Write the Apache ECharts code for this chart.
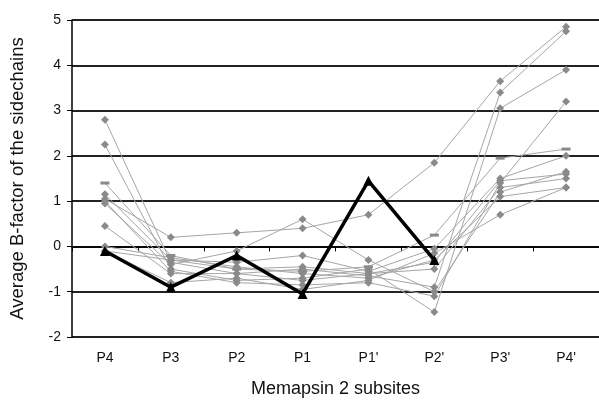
<!DOCTYPE html>
<html>
<head>
<meta charset="utf-8">
<script src="https://cdn.jsdelivr.net/npm/echarts@6/dist/echarts.min.js"></script>
<style>
  html, body { margin: 0; padding: 0; background: #fff; }
  #chart { width: 599px; height: 403px; }
</style>
</head>
<body>
<div id="chart"></div>
<script>
// subsites on the x axis
const sites = ['P4', 'P3', 'P2', 'P1', "P1'", "P2'", "P3'", "P4'"]

// grey curves, one per structure
const s1  = [2.8, -0.35, -0.6, -0.5, -0.65, -0.9, 3.4, 4.75]
const s2  = [2.25, -0.5, -0.75, -0.7, -0.5, -1.45, 3.05, 3.9]
const s3  = [1.4, -0.2, -0.5, -0.55, -0.45, 0.25, 1.95, 2.15]
const s4  = [1.15, -0.3, -0.35, -0.2, -0.55, -0.05, 1.5, 2.0]
const s5  = [1.05, 0.2, 0.3, 0.4, 0.7, 1.85, 3.65, 4.85]
const s6  = [1.0, -0.55, -0.8, -0.85, -0.8, -1.1, 1.4, 3.2]
const s7  = [0.95, -0.4, -0.1, 0.6, -0.3, -1.0, 1.2, 1.65]
const s8  = [0.45, -0.6, -0.6, -0.75, -0.6, -0.5, 1.3, 1.5]
const s9  = [0.0, -0.25, -0.45, -0.6, -0.7, -0.3, 1.1, 1.3]
const s10 = [-0.1, -0.8, -0.7, -0.95, -0.75, -0.15, 0.7, 1.3]
const s11 = [-0.1, -0.3, -0.5, -0.45, -0.6, -0.35, 1.45, 1.6]
const greys = [s1, s2, s3, s4, s5, s6, s7, s8, s9, s10, s11]

// thick black curve
const bold = [-0.1, -0.9, -0.2, -1.05, 1.45, -0.3, null, null]

const yTicks = { min: -2, max: 5, step: 1 }

const FONT = 'Liberation Sans, Arial, sans-serif'

const series = greys.map((d, i) => ({
  type: 'line',
  data: d,
  symbol: i === 2 ? 'rect' : 'diamond',
  symbolSize: i === 2 ? [9, 3] : 8,
  lineStyle: { color: '#a6a6a6', width: 1 },
  itemStyle: { color: '#8a8a8a' },
  animation: false,
  z: 2
}))
series.push({
  type: 'line',
  data: bold,
  symbol: 'triangle',
  symbolSize: 10,
  lineStyle: { color: '#000', width: 3.5 },
  itemStyle: { color: '#000' },
  animation: false,
  z: 5
})

const chart = echarts.init(document.getElementById('chart'))
chart.setOption({
  backgroundColor: '#fff',
  grid: { left: 71, right: 0, top: 20, bottom: 66 },
  xAxis: {
    type: 'category',
    data: sites,
    boundaryGap: true,
    axisLine: { lineStyle: { color: '#000', width: 1.5 } },
    axisTick: { show: true, length: 5, lineStyle: { color: '#000' } },
    axisLabel: { color: '#111', fontFamily: FONT, fontSize: 14, margin: 14 },
    name: 'Memapsin 2 subsites',
    nameLocation: 'middle',
    nameGap: 43,
    nameTextStyle: { color: '#111', fontFamily: FONT, fontSize: 18 }
  },
  yAxis: {
    type: 'value',
    min: yTicks.min,
    max: yTicks.max,
    interval: yTicks.step,
    axisLine: { show: true, lineStyle: { color: '#000', width: 1.5 } },
    axisTick: { show: true, length: 5, lineStyle: { color: '#000' } },
    axisLabel: { color: '#111', fontFamily: FONT, fontSize: 14, margin: 11 },
    splitLine: { lineStyle: { color: '#222', width: 1.8 } },
    name: 'Average B-factor of the sidechains',
    nameLocation: 'middle',
    nameGap: 45,
    nameTextStyle: { color: '#111', fontFamily: FONT, fontSize: 18.5 }
  },
  series
})
</script>
</body>
</html>
